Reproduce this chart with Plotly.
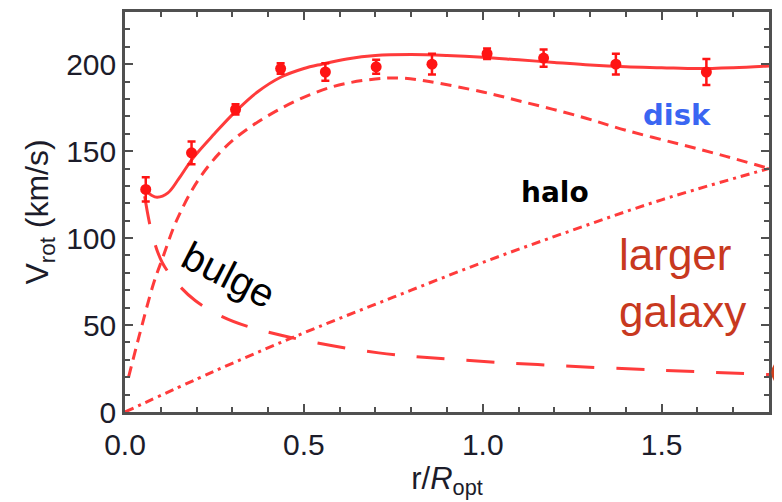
import plotly.graph_objects as go

# Observed data points
r_obs = [0.058, 0.186, 0.309, 0.435, 0.560, 0.702, 0.858, 1.012, 1.170, 1.372, 1.625]
v_obs = [128, 149, 174, 197.5, 195.5, 198.5, 200, 206, 203.5, 200, 195.5]
v_err = [7, 6.5, 3, 3, 5, 4, 6, 3, 5, 6, 7.5]

# Total fit (solid)
r_tot = [0.06, 0.075, 0.09, 0.12, 0.15, 0.19, 0.25, 0.31, 0.37, 0.435, 0.5, 0.55, 0.62, 0.7,
         0.8, 0.9, 1.0, 1.1, 1.2, 1.3, 1.4, 1.5, 1.6, 1.7, 1.8]
v_tot = [127, 124.5, 123.5, 126, 134, 146, 160, 173, 184, 192.5, 197.5, 200, 203, 205,
         205.5, 205, 204, 202.5, 201, 199.5, 198.5, 198, 197.5, 198, 199]

# Disk (short dash)
r_disk = [0.01, 0.04, 0.08, 0.106, 0.144, 0.21, 0.30, 0.44, 0.58, 0.70, 0.77, 0.85, 1.0, 1.1,
          1.27, 1.4, 1.55, 1.68, 1.8]
v_disk = [20, 44, 74, 89, 110, 135, 156, 175, 187, 191.5, 192, 190, 184, 179,
          170, 162, 154, 147, 140]

# Halo (dash-dot)
r_halo = [0.0, 0.25, 0.5, 0.75, 1.0, 1.25, 1.5, 1.8]
v_halo = [0, 23.5, 45.5, 66, 86, 104.5, 122, 140]

# Bulge (long dash)
r_bulge = [0.055, 0.075, 0.104, 0.15, 0.197, 0.27, 0.346, 0.494, 0.709, 0.9, 1.176, 1.5, 1.8]
v_bulge = [124, 103, 86, 73, 64, 55, 49, 41.5, 34, 30.5, 27, 24, 21.5]

x_ticks = [0.0, 0.5, 1.0, 1.5]
x_ticklabels = ["0.0", "0.5", "1.0", "1.5"]
y_ticks = [0, 50, 100, 150, 200]
y_ticklabels = ["0", "50", "100", "150", "200"]

LINE = "#ff3b3b"
MARK = "#ff1414"
AX = "#505050"
FONT = "Liberation Sans, Arial, sans-serif"

fig = go.Figure()
fig.add_trace(go.Scatter(x=r_halo, y=v_halo, mode="lines", line_shape="spline",
                         line=dict(color=LINE, width=3, dash="9px,5px,3px,5px")))
fig.add_trace(go.Scatter(x=r_bulge, y=v_bulge, mode="lines", line_shape="spline",
                         line=dict(color=LINE, width=3, dash="28px,22px")))
fig.add_trace(go.Scatter(x=r_disk, y=v_disk, mode="lines", line_shape="spline",
                         line=dict(color=LINE, width=3, dash="11px,7px")))
fig.add_trace(go.Scatter(x=r_tot, y=v_tot, mode="lines", line_shape="spline",
                         line=dict(color=LINE, width=3)))
fig.add_trace(go.Scatter(x=r_obs, y=v_obs, mode="markers",
                         marker=dict(color=MARK, size=11),
                         error_y=dict(type="data", array=v_err, color=MARK, thickness=2.5, width=4)))

tickfont = dict(family=FONT, size=30, color="#1c1c2a")
axis_common = dict(showline=True, linecolor=AX, linewidth=2.5, mirror="ticks",
                   ticks="inside", ticklen=8, tickwidth=2, tickcolor=AX,
                   showgrid=False, zeroline=False, tickfont=tickfont, automargin=False)

fig.update_xaxes(range=[0, 1.8], tickvals=x_ticks, ticktext=x_ticklabels,
                 minor=dict(dtick=0.1, ticks="inside", ticklen=5, tickwidth=1.5, tickcolor=AX),
                 ticklabelstandoff=4,
                 title=dict(text="r/<i>R</i><sub>opt</sub>", standoff=8,
                            font=dict(family=FONT, size=31, color="#1c1c2a")),
                 **axis_common)
fig.update_yaxes(range=[0, 230], tickvals=y_ticks, ticktext=y_ticklabels,
                 minor=dict(dtick=10, ticks="inside", ticklen=5, tickwidth=1.5, tickcolor=AX),
                 ticklabelstandoff=0,
                 title=dict(text="V<sub>rot</sub> (km/s)", standoff=8,
                            font=dict(family=FONT, size=32, color="#1c1c2a")),
                 **axis_common)

fig.add_annotation(x=1.543, y=171, text="<b>disk</b>", showarrow=False,
                   font=dict(family="DejaVu Sans", size=29, color="#3a66f2"))
fig.add_annotation(x=1.202, y=126, text="<b>halo</b>", showarrow=False,
                   font=dict(family="DejaVu Sans", size=28, color="#000000"))
fig.add_annotation(x=0.292, y=79, text="bulge", showarrow=False, textangle=27,
                   font=dict(family=FONT, size=40, color="#000000"))
fig.add_annotation(x=1.375, y=74, text="larger<br>galaxy", showarrow=False, align="left",
                   xanchor="left",
                   font=dict(family=FONT, size=44, color="#c8391f"))

fig.add_shape(type="circle", xref="paper", yref="paper", x0=1.006, x1=1.06, y0=0.062, y1=0.135,
              line=dict(color="#d0401e", width=3), layer="above")

# The page body has an 8px default margin, so the figure is sized to fit the 782x502 window.
fig.update_layout(width=774, height=494, margin=dict(l=117, r=13, t=4, b=90, autoexpand=False),
                  plot_bgcolor="white", paper_bgcolor="white", showlegend=False)

fig.write_html("out.html")
